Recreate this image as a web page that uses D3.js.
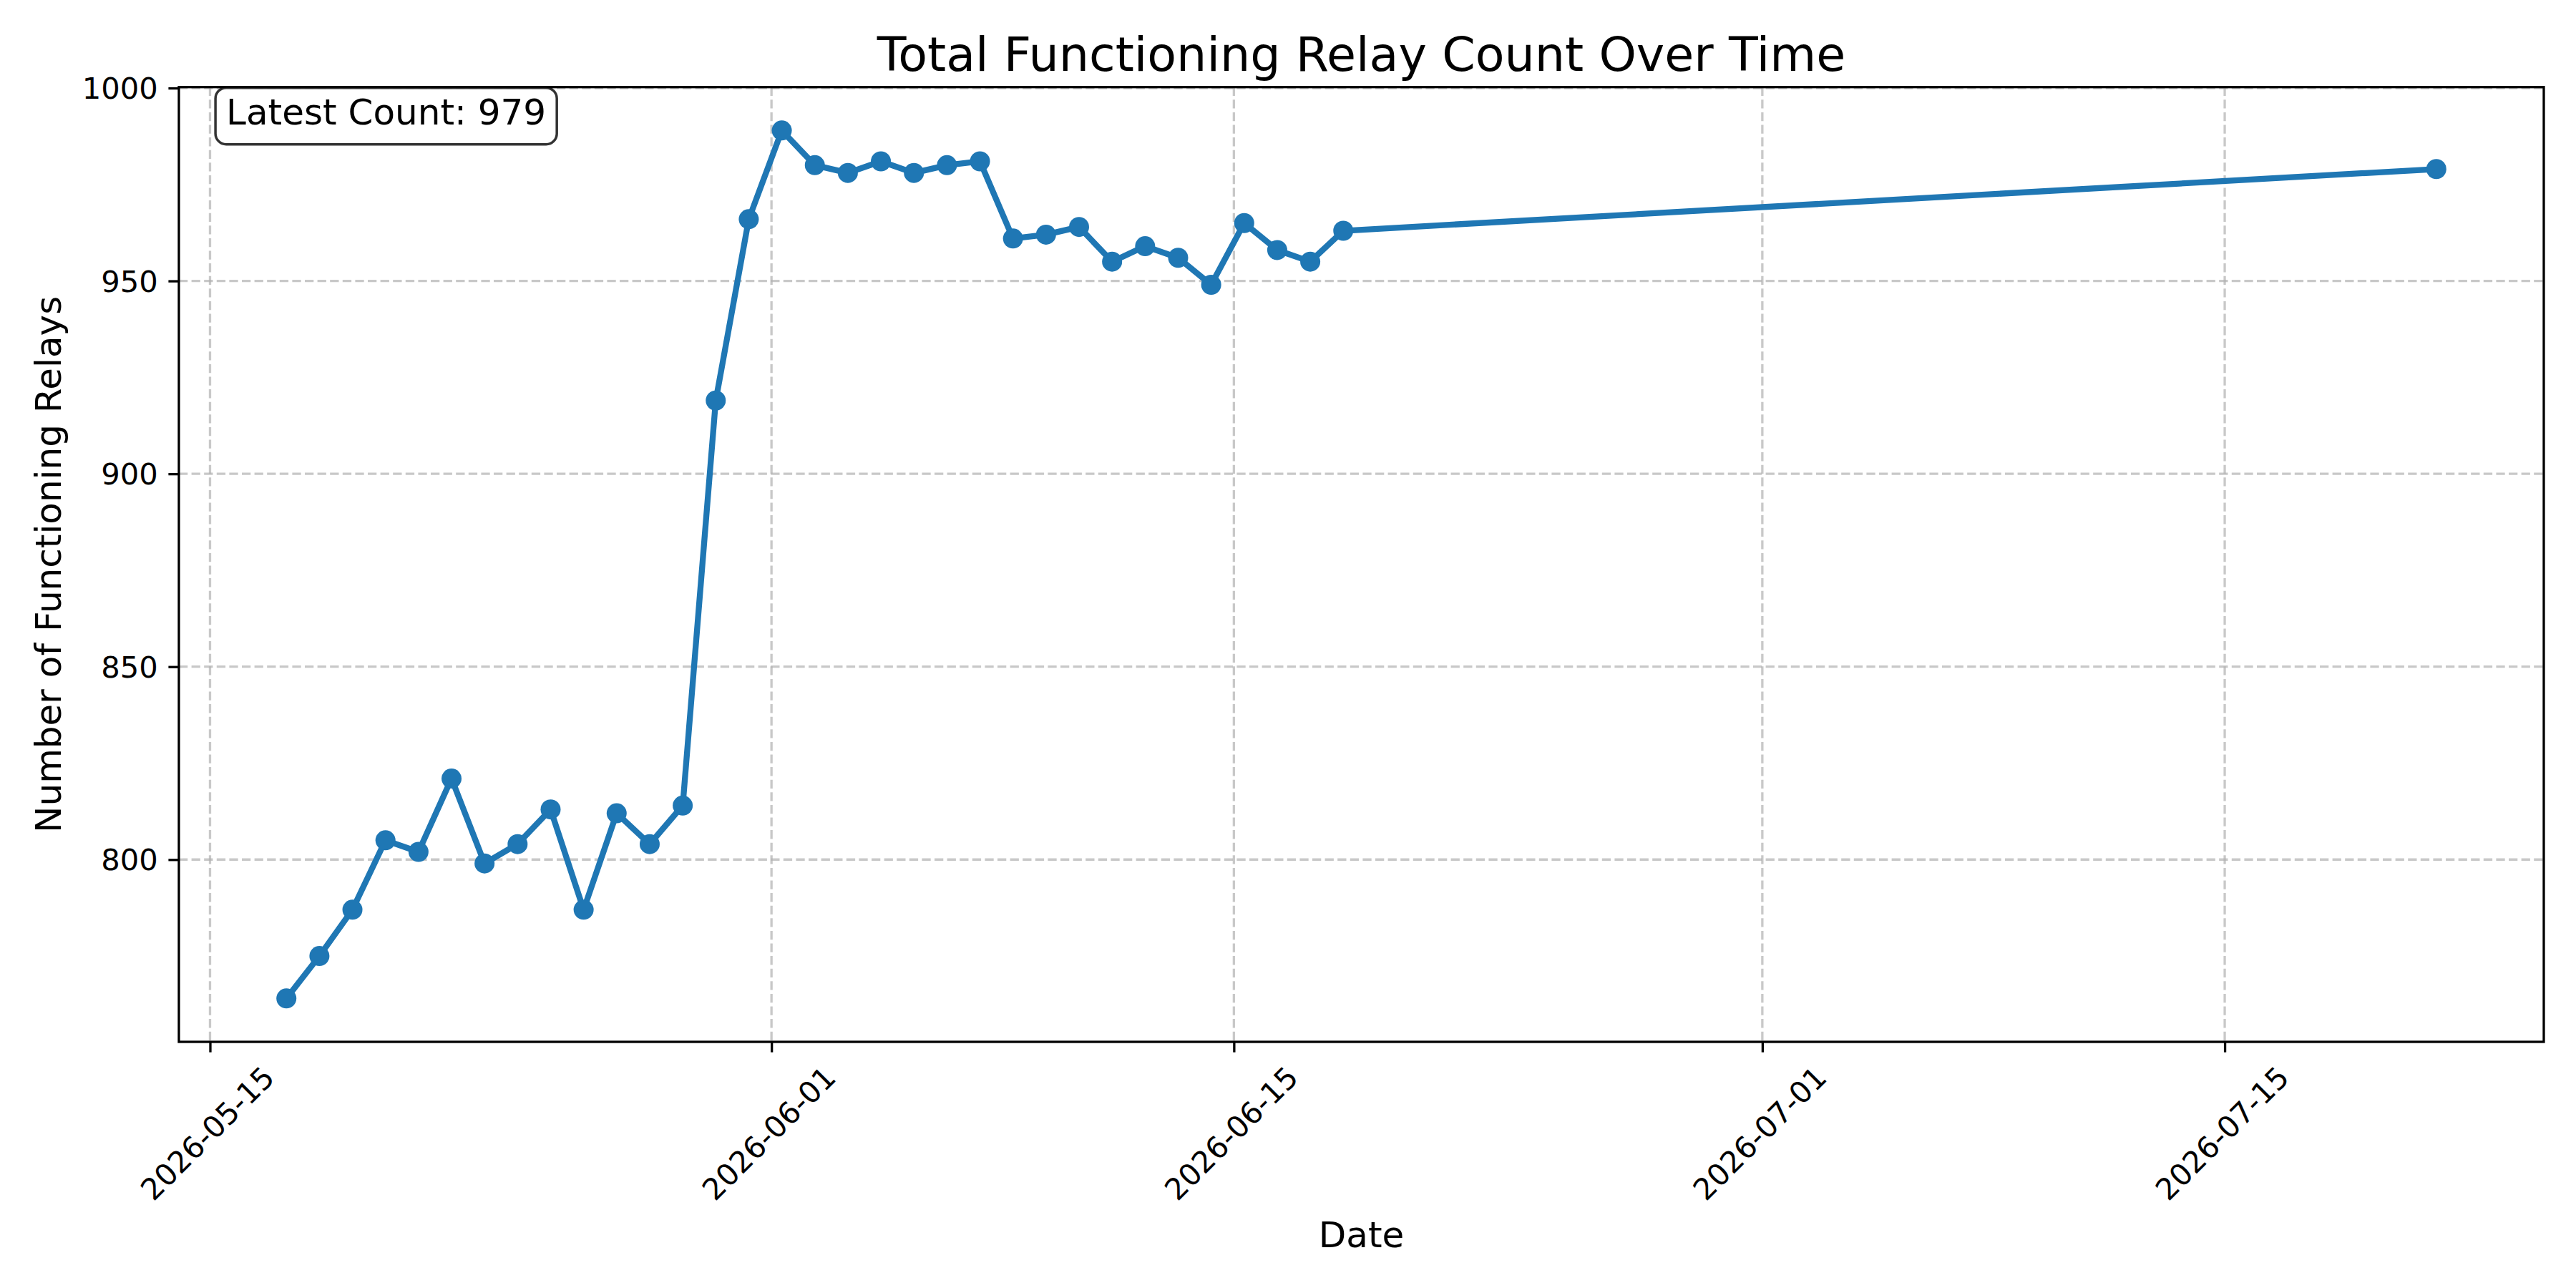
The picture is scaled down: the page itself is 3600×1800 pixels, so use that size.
<!DOCTYPE html>
<html>
<head>
<meta charset="utf-8">
<script src="https://cdn.jsdelivr.net/npm/d3@7/dist/d3.min.js"></script>
<style>
  body { margin: 0; background: #fff; }
  svg { display: block; font-family: "DejaVu Sans", sans-serif; }
</style>
</head>
<body>
<div id="chart"></div>
<script>
// data
var dates = [
    "2026-05-17T07:30", "2026-05-18T07:30", "2026-05-19T07:30", "2026-05-20T07:30",
    "2026-05-21T07:30", "2026-05-22T07:30", "2026-05-23T07:30", "2026-05-24T07:30",
    "2026-05-25T07:30", "2026-05-26T07:30", "2026-05-27T07:30", "2026-05-28T07:30",
    "2026-05-29T07:30", "2026-05-30T07:30", "2026-05-31T07:30", "2026-06-01T07:30",
    "2026-06-02T07:30", "2026-06-03T07:30", "2026-06-04T07:30", "2026-06-05T07:30",
    "2026-06-06T07:30", "2026-06-07T07:30", "2026-06-08T07:30", "2026-06-09T07:30",
    "2026-06-10T07:30", "2026-06-11T07:30", "2026-06-12T07:30", "2026-06-13T07:30",
    "2026-06-14T07:30", "2026-06-15T07:30", "2026-06-16T07:30", "2026-06-17T07:30",
    "2026-06-18T07:30", "2026-07-21T09:45"
];
var relayCounts = [
    764, 775, 787, 805, 802, 821, 799, 804, 813, 787, 812, 804, 814, 919, 966, 989,
    980, 978, 981, 978, 980, 981, 961, 962, 964, 955, 959, 956, 949, 965, 958, 955,
    963, 979
];
var xTickDates = ["2026-05-15", "2026-06-01", "2026-06-15", "2026-07-01", "2026-07-15"];
var yTickValues = [800, 850, 900, 950, 1000];

var chartTitle = "Total Functioning Relay Count Over Time";
var xLabel = "Date";
var yLabel = "Number of Functioning Relays";

var W = 3600, H = 1800;
var margin = { top: 121.7, right: 45, bottom: 344, left: 250 };
var width = W - margin.left - margin.right,
    height = H - margin.top - margin.bottom;

var parseTime = d3.utcParse("%Y-%m-%dT%H:%M");
var parseDay = d3.utcParse("%Y-%m-%d");
var fmt = d3.utcFormat("%Y-%m-%d");

var points = dates.map(function (d, i) {
    return { date: parseTime(d), count: relayCounts[i] };
});

// matplotlib style 5% padding on both axes
var xExt = d3.extent(points, function (d) { return +d.date; });
var xPad = (xExt[1] - xExt[0]) * 0.05;
var yExt = d3.extent(points, function (d) { return d.count; });
var yPad = (yExt[1] - yExt[0]) * 0.05;

var x = d3.scaleUtc()
    .domain([new Date(xExt[0] - xPad), new Date(xExt[1] + xPad)])
    .range([0, width]);
var y = d3.scaleLinear()
    .domain([yExt[0] - yPad, yExt[1] + yPad])
    .range([height, 0]);

var svg = d3.select("#chart").append("svg")
    .attr("width", W)
    .attr("height", H);

var g = svg.append("g")
    .attr("transform", "translate(" + margin.left + "," + margin.top + ")");

var xTicks = xTickDates.map(function (d) { return parseDay(d); });

// grid
g.append("g").selectAll("line")
    .data(xTicks)
    .enter().append("line")
    .attr("x1", function (d) { return x(d); })
    .attr("x2", function (d) { return x(d); })
    .attr("y1", 0).attr("y2", height)
    .attr("stroke", "#b0b0b0").attr("stroke-opacity", 0.7)
    .attr("stroke-width", 3.3).attr("stroke-dasharray", "12.3,5.3");

g.append("g").selectAll("line")
    .data(yTickValues)
    .enter().append("line")
    .attr("x1", 0).attr("x2", width)
    .attr("y1", function (d) { return y(d); })
    .attr("y2", function (d) { return y(d); })
    .attr("stroke", "#b0b0b0").attr("stroke-opacity", 0.7)
    .attr("stroke-width", 3.3).attr("stroke-dasharray", "12.3,5.3");

// axes
var xAxis = d3.axisBottom(x).tickValues(xTicks).tickFormat(fmt)
    .tickSize(14.6).tickPadding(14.6);
var yAxis = d3.axisLeft(y).tickValues(yTickValues).tickFormat(d3.format("d"))
    .tickSize(14.6).tickPadding(14.6);

var gx = g.append("g")
    .attr("transform", "translate(0," + height + ")")
    .call(xAxis);
gx.select(".domain").remove();
gx.selectAll(".tick line").attr("stroke", "#000").attr("stroke-width", 3.3);
gx.selectAll(".tick text")
    .attr("font-size", 41.7)
    .attr("font-family", "DejaVu Sans")
    .attr("fill", "#000")
    .attr("text-anchor", "middle")
    .attr("dominant-baseline", "central")
    .attr("y", 0).attr("dy", null)
    .attr("transform", "translate(-4,128) rotate(-45)");

var gy = g.append("g").call(yAxis);
gy.select(".domain").remove();
gy.selectAll(".tick line").attr("stroke", "#000").attr("stroke-width", 3.3);
gy.selectAll(".tick text")
    .attr("font-size", 41.7)
    .attr("font-family", "DejaVu Sans")
    .attr("fill", "#000")
    .attr("dy", "0.35em");

// line and markers
var line = d3.line()
    .x(function (d) { return x(d.date); })
    .y(function (d) { return y(d.count); });

g.append("path")
    .datum(points)
    .attr("d", line)
    .attr("fill", "none")
    .attr("stroke", "#1f77b4")
    .attr("stroke-width", 8.3)
    .attr("stroke-linejoin", "round")
    .attr("stroke-linecap", "square");

g.append("g").selectAll("circle")
    .data(points)
    .enter().append("circle")
    .attr("cx", function (d) { return x(d.date); })
    .attr("cy", function (d) { return y(d.count); })
    .attr("r", 14)
    .attr("fill", "#1f77b4");

// frame
g.append("rect")
    .attr("width", width).attr("height", height)
    .attr("fill", "none").attr("stroke", "#000").attr("stroke-width", 3.3);

// latest count annotation
var note = g.append("g");
var noteText = note.append("text")
    .attr("x", width * 0.02)
    .attr("y", 52)
    .attr("font-size", 50)
    .attr("fill", "#000")
    .text("Latest Count: " + relayCounts[relayCounts.length - 1]);
var bb = noteText.node().getBBox();
note.insert("rect", "text")
    .attr("x", bb.x - 15)
    .attr("y", 1)
    .attr("width", bb.width + 30)
    .attr("height", 79)
    .attr("rx", 15).attr("ry", 15)
    .attr("fill", "#fff").attr("fill-opacity", 0.8)
    .attr("stroke", "#000").attr("stroke-opacity", 0.8)
    .attr("stroke-width", 3.5);

// title and labels
svg.append("text")
    .attr("x", margin.left + width / 2)
    .attr("y", 99)
    .attr("text-anchor", "middle")
    .attr("font-size", 66.7)
    .attr("fill", "#000")
    .text(chartTitle);

svg.append("text")
    .attr("x", margin.left + width / 2)
    .attr("y", 1743)
    .attr("text-anchor", "middle")
    .attr("font-size", 50)
    .attr("fill", "#000")
    .text(xLabel);

svg.append("text")
    .attr("transform", "translate(85," + (margin.top + height / 2) + ") rotate(-90)")
    .attr("text-anchor", "middle")
    .attr("font-size", 50)
    .attr("fill", "#000")
    .text(yLabel);
</script>
</body>
</html>
